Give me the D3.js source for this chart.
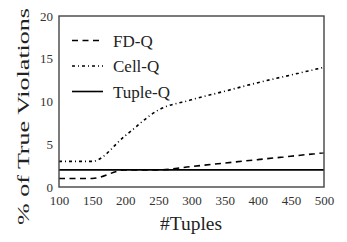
<!DOCTYPE html>
<html>
<head>
<meta charset="utf-8">
<script src="https://cdn.jsdelivr.net/npm/d3@7"></script>
</head>
<body style="margin:0">
<svg width="347" height="242"></svg>
<script>
var tuples = [100, 150, 200, 250, 300, 350, 400, 450, 500];
var fdQ    = [1, 1, 2, 2, 2.4, 2.8, 3.2, 3.6, 4];
var cellQ  = [3, 3, 6, 9, 10.2, 11.2, 12.2, 13.1, 14];
var tupleQ = [2, 2, 2, 2, 2, 2, 2, 2, 2];
var seriesNames = ["FD-Q", "Cell-Q", "Tuple-Q"];
var xTicks = [100, 150, 200, 250, 300, 350, 400, 450, 500];
var yTicks = [0, 5, 10, 15, 20];

var dashes = {
  "FD-Q": "6,4.5",
  "Cell-Q": "3,3,1,3",
  "Tuple-Q": null
};

var svg = d3.select("svg");
var margin = {left: 59, top: 16, right: 23, bottom: 55};
var width = 347 - margin.left - margin.right;
var height = 242 - margin.top - margin.bottom;

var x = d3.scaleLinear().domain([100, 500]).range([margin.left, margin.left + width]);
var y = d3.scaleLinear().domain([0, 20]).range([margin.top + height, margin.top]);

var series = [
  {name: "FD-Q", values: fdQ},
  {name: "Cell-Q", values: cellQ},
  {name: "Tuple-Q", values: tupleQ}
];

var line = d3.line()
  .x(function(d, i) { return x(tuples[i]); })
  .y(function(d) { return y(d); })
  .curve(d3.curveMonotoneX);

svg.append("g").selectAll("path").data(series).enter().append("path")
  .attr("d", function(d) { return line(d.values); })
  .attr("fill", "none")
  .attr("stroke", "#000")
  .attr("stroke-width", 1.6)
  .attr("stroke-dasharray", function(d) { return dashes[d.name]; });

// frame
svg.append("rect")
  .attr("x", margin.left).attr("y", margin.top)
  .attr("width", width).attr("height", height)
  .attr("fill", "none").attr("stroke", "#444").attr("stroke-width", 1.4);

// axes
var xAxis = d3.axisBottom(x).tickValues(xTicks).tickSize(0).tickPadding(9);
var gx = svg.append("g").attr("transform", "translate(0," + (margin.top + height) + ")").call(xAxis);
gx.select(".domain").remove();
gx.selectAll("text").style("font-family", "'Liberation Serif'").style("font-size", "13px").attr("fill", "#333");

var yAxis = d3.axisLeft(y).tickValues(yTicks).tickSize(0).tickPadding(6);
var gy = svg.append("g").attr("transform", "translate(" + margin.left + ",0)").call(yAxis);
gy.select(".domain").remove();
gy.selectAll("text").style("font-family", "'Liberation Serif'").style("font-size", "13px").attr("fill", "#333");

// axis labels
svg.append("text")
  .attr("x", 191).attr("y", 230)
  .attr("text-anchor", "middle")
  .style("font-family", "'Liberation Serif'").style("font-size", "18px")
  .attr("fill", "#222")
  .attr("textLength", 62).attr("lengthAdjust", "spacingAndGlyphs")
  .text("#Tuples");

svg.append("text")
  .attr("transform", "translate(29,116.5) rotate(-90)")
  .attr("text-anchor", "middle")
  .style("font-family", "'Liberation Serif'").style("font-size", "17.5px")
  .attr("fill", "#222")
  .attr("textLength", 217).attr("lengthAdjust", "spacingAndGlyphs")
  .text("% of True Violations");

// legend
var legend = svg.append("g").selectAll("g").data(seriesNames).enter().append("g")
  .attr("transform", function(d, i) { return "translate(72," + (40.5 + i * 25.5) + ")"; });
legend.append("line")
  .attr("x1", 0).attr("x2", 31).attr("y1", 0).attr("y2", 0)
  .attr("stroke", "#000").attr("stroke-width", 1.6)
  .attr("stroke-dasharray", function(d) { return dashes[d]; });
legend.append("text")
  .attr("x", 41).attr("y", 6)
  .style("font-family", "'Liberation Serif'").style("font-size", "17px")
  .attr("fill", "#222")
  .text(function(d) { return d; });
</script>
</body>
</html>
